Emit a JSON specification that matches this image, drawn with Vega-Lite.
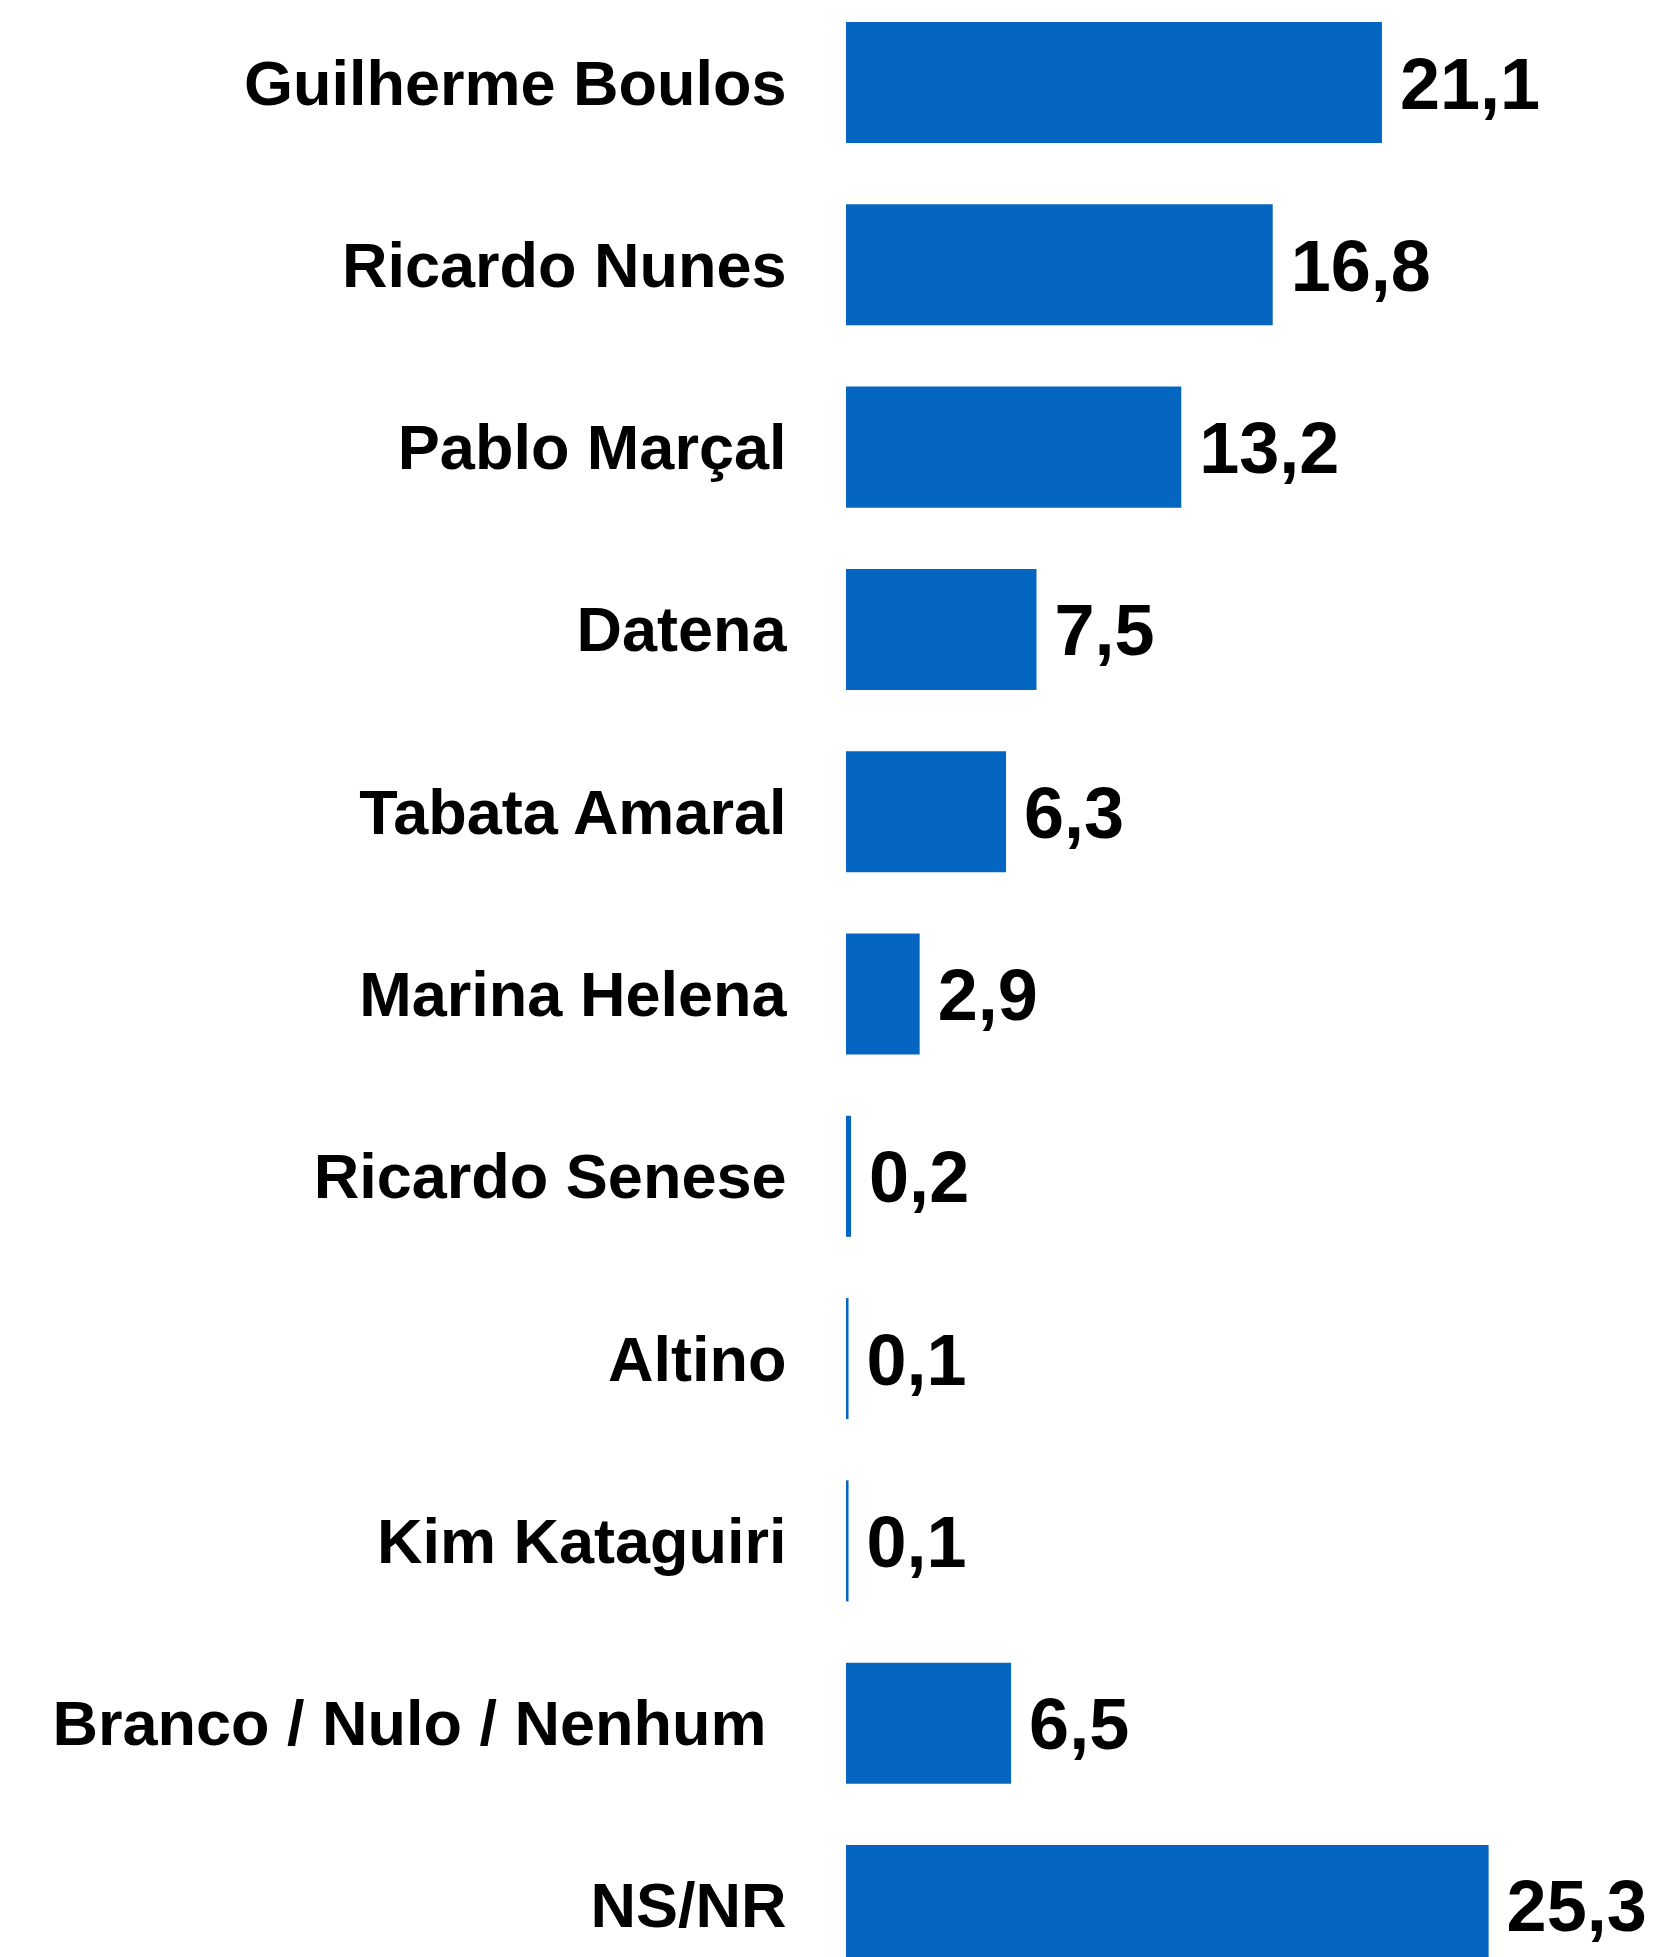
{
  "$schema": "https://vega.github.io/schema/vega-lite/v6.json",
  "autosize": "none",
  "padding": {"left": 846, "top": 22, "right": 57, "bottom": 0},
  "width": 762,
  "height": 1935,
  "background": "white",
  "config": {
    "view": {"stroke": null},
    "locale": {"number": {"decimal": ",", "thousands": ".", "grouping": [3], "currency": ["R$", ""]}}
  },
  "data": {
    "values": [
      {"candidato": "Guilherme Boulos", "valor": 21.1},
      {"candidato": "Ricardo Nunes", "valor": 16.8},
      {"candidato": "Pablo Marçal", "valor": 13.2},
      {"candidato": "Datena", "valor": 7.5},
      {"candidato": "Tabata Amaral", "valor": 6.3},
      {"candidato": "Marina Helena", "valor": 2.9},
      {"candidato": "Ricardo Senese", "valor": 0.2},
      {"candidato": "Altino", "valor": 0.1},
      {"candidato": "Kim Kataguiri", "valor": 0.1},
      {"candidato": "Branco / Nulo / Nenhum", "valor": 6.5},
      {"candidato": "NS/NR", "valor": 25.3}
    ]
  },
  "encoding": {
    "y": {
      "field": "candidato",
      "type": "nominal",
      "sort": null,
      "scale": {"range": [0, 1944], "paddingInner": 0.336, "paddingOuter": 0},
      "axis": {
        "title": null,
        "domain": false,
        "ticks": false,
        "labelPadding": {"condition": {"test": "datum.value === 'Branco / Nulo / Nenhum'", "value": 80}, "value": 60},
        "labelLimit": 0,
        "labelFont": "Liberation Sans",
        "labelFontSize": 63,
        "labelFontWeight": "bold",
        "labelColor": "#000000",
        "labelOffset": 3
      }
    },
    "x": {
      "field": "valor",
      "type": "quantitative",
      "scale": {"domain": [0, 30]},
      "axis": null
    }
  },
  "layer": [
    {"mark": {"type": "bar", "color": "#0566c1"}},
    {
      "mark": {
        "type": "text",
        "align": "left",
        "baseline": "middle",
        "dx": 18,
        "dy": 4,
        "font": "Liberation Sans",
        "fontSize": 72,
        "fontWeight": "bold",
        "color": "#000000"
      },
      "encoding": {
        "text": {"field": "valor", "type": "quantitative", "format": ".1f"}
      }
    }
  ]
}
